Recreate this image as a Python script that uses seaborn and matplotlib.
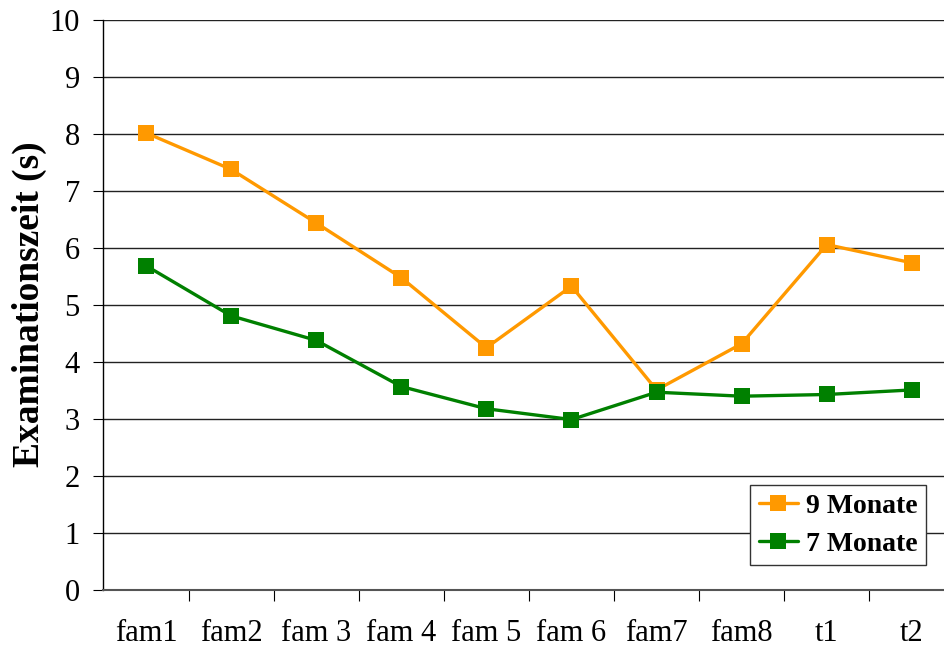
import matplotlib
matplotlib.use("Agg")
import matplotlib.pyplot as plt
import seaborn as sns
import pandas as pd
import numpy as np
from matplotlib.ticker import FixedLocator

# Examination times per trial
categories = ["fam1", "fam2", "fam 3", "fam 4", "fam 5", "fam 6", "fam7", "fam8", "t1", "t2"]
monate_9 = [8.02, 7.38, 6.44, 5.48, 4.25, 5.33, 3.51, 4.32, 6.06, 5.74]
monate_7 = [5.69, 4.81, 4.38, 3.57, 3.18, 2.99, 3.47, 3.40, 3.43, 3.51]
series_names = ["9 Monate", "7 Monate"]
series_colors = ["#FF9900", "#008000"]
y_ticks = list(range(0, 11))

df = pd.DataFrame({
    "Durchgang": categories * 2,
    "Zeit": monate_9 + monate_7,
    "Gruppe": [series_names[0]] * len(categories) + [series_names[1]] * len(categories),
})

sns.set_theme(style="white")
plt.rcParams["font.family"] = ["Liberation Serif", "DejaVu Serif"]
plt.rcParams["text.color"] = "black"
plt.rcParams["axes.labelcolor"] = "black"
plt.rcParams["xtick.color"] = "black"
plt.rcParams["ytick.color"] = "black"

fig = plt.figure(figsize=(9.44, 6.5), dpi=100)
# plot area runs a little past the right edge of the figure
ax_left, ax_right, ax_top, ax_bottom = 103.4, 954.4, 20, 590
ax_w, ax_h = ax_right - ax_left, ax_bottom - ax_top
ax = fig.add_axes([ax_left / 944, 1 - ax_bottom / 650, ax_w / 944, ax_h / 650])

sns.lineplot(
    data=df, x="Durchgang", y="Zeit", hue="Gruppe", style="Gruppe",
    palette=dict(zip(series_names, series_colors)),
    markers={n: "s" for n in series_names}, dashes=False,
    markersize=11, linewidth=2.4, markeredgewidth=0, ax=ax,
    sort=False,
)

ax.set_xlim(-0.5, len(categories) - 0.5)
ax.set_ylim(0, 10)
ax.set_yticks(y_ticks)
ax.set_yticklabels([str(t) for t in y_ticks], fontsize=22, color="black")
ax.set_xticks(range(len(categories)))
ax.set_xticklabels(categories, fontsize=22, color="black")
ax.xaxis.set_minor_locator(FixedLocator(np.arange(0.5, len(categories) - 0.5, 1)))
ax.tick_params(axis="x", which="major", length=0, pad=21)
ax.tick_params(axis="x", which="minor", direction="out", length=8, width=0.8, color="black", bottom=True)
ax.tick_params(axis="y", which="major", direction="out", length=7, width=0.8, color="black", left=True, pad=10)

ax.yaxis.grid(True, color="#222222", linewidth=1.0)
ax.xaxis.grid(False)
ax.set_axisbelow(True)

for s in ["top", "right"]:
    ax.spines[s].set_visible(False)
ax.spines["left"].set_color("black")
ax.spines["left"].set_linewidth(1.0)
ax.spines["bottom"].set_color("#555555")
ax.spines["bottom"].set_linewidth(1.5)

ax.set_xlabel("")
ax.set_ylabel("Examinationszeit (s)", fontsize=27, fontweight="bold", va="center", color="black")
ax.yaxis.set_label_coords((29 - ax_left) / ax_w, (ax_bottom - 304) / ax_h)

leg = ax.legend(
    loc="lower right",
    bbox_to_anchor=((926 - ax_left) / ax_w, (ax_bottom - 565) / ax_h),
    borderaxespad=0,
    frameon=True, fancybox=False, prop={"size": 20, "weight": "bold"},
    handlelength=1.4, handletextpad=0.3, borderpad=0.3, labelspacing=0.45,
)
for t in leg.get_texts():
    t.set_color("black")
leg.get_frame().set_edgecolor("#333333")
leg.get_frame().set_linewidth(1.0)
leg.get_frame().set_alpha(1)

fig.savefig("out.png", dpi=100)
